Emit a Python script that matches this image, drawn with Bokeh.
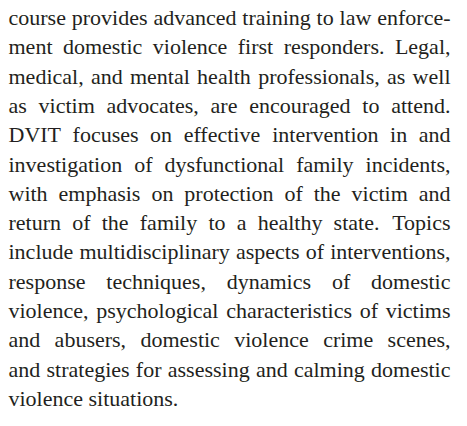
from bokeh.plotting import figure
from bokeh.models import Range1d
from bokeh.core.properties import value
from bokeh.embed import file_html
from bokeh.resources import INLINE

# ---- text content (one entry per printed line) ----
lines = [
    "course provides advanced training to law enforce-",
    "ment domestic violence first responders. Legal,",
    "medical, and mental health professionals, as well",
    "as victim advocates, are encouraged to attend.",
    "DVIT focuses on effective intervention in and",
    "investigation of dysfunctional family incidents,",
    "with emphasis on protection of the victim and",
    "return of the family to a healthy state. Topics",
    "include multidisciplinary aspects of interventions,",
    "response techniques, dynamics of domestic",
    "violence, psychological characteristics of victims",
    "and abusers, domestic violence crime scenes,",
    "and strategies for assessing and calming domestic",
    "violence situations.",
]

# ---- layout / style ----
W, H = 451, 410
F = value("Liberation Serif")
S = value("22px")
FS = 22
LEFT, RIGHT = 8.0, 450.0
Y0, LEAD = 17.0, 29.3
COLOR = "#231f20"

# advance widths (1/1000 em) of a Times-compatible serif face
ADV = dict(zip("abcdefghijklmnopqrstuvwxyz",
               [444, 500, 444, 500, 444, 333, 500, 500, 278, 278, 500, 278, 778,
                500, 500, 500, 500, 333, 389, 278, 500, 500, 722, 500, 500, 444]))
ADV.update({"D": 722, "V": 722, "I": 333, "T": 611, "L": 611,
            ",": 250, ".": 250, "-": 333, " ": 250})


def width(s):
    return sum(ADV.get(c, 500) for c in s) * FS / 1000.0


p = figure(width=W, height=H, x_range=Range1d(0, W), y_range=Range1d(H, 0),
           x_axis_type=None, y_axis_type=None, output_backend="svg",
           toolbar_location=None, min_border=0)
p.outline_line_color = "white"

for i, line in enumerate(lines):
    words = line.split()
    y = Y0 + i * LEAD
    ws = [width(w) for w in words]
    last = i == len(lines) - 1
    if last:
        gap = width(" ")
    else:
        gap = (RIGHT - LEFT - sum(ws)) / (len(words) - 1)
    xs, x = [], LEFT
    for wd in ws:
        xs.append(x)
        x += wd + gap
    if last:
        p.text(x=xs, y=[y] * len(words), text=words, text_font=F,
               text_font_size=S, text_baseline="alphabetic", text_color=COLOR)
    else:
        p.text(x=xs[:-1], y=[y] * (len(words) - 1), text=words[:-1], text_font=F,
               text_font_size=S, text_baseline="alphabetic", text_color=COLOR)
        p.text(x=[RIGHT], y=[y], text=[words[-1]], text_font=F,
               text_font_size=S, text_baseline="alphabetic", text_color=COLOR,
               text_align="right")

open("out.html", "w").write(file_html(p, INLINE))
